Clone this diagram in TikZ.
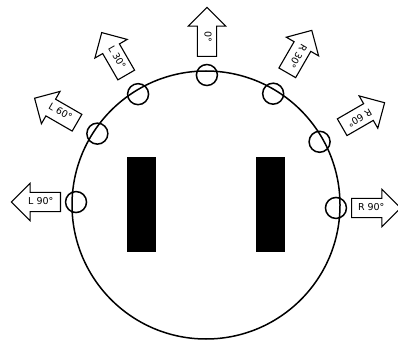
\documentclass[tikz,border=0pt]{standalone}
\usepackage{fontspec}
\newfontfamily\labelfont{DejaVu Sans}
\usetikzlibrary{shapes.arrows}

\begin{document}
\begin{tikzpicture}[
  x=1pt, y=1pt,
  dirarrow/.style={
    single arrow, draw=black, line width=1.1pt,
    single arrow head extend=9pt, single arrow head indent=0pt,
    minimum height=49pt, inner xsep=2.5pt, inner ysep=4.6pt,
    text height=7pt, text depth=2pt,
    font=\labelfont\fontsize{9.5}{10}\selectfont, anchor=tail
  },
  sensor/.style={
    circle, draw=black, line width=1.5pt,
    minimum size=21pt, inner sep=0pt
  }
]
\useasboundingbox (0,0) rectangle (398,340);

% ================= BODY =================
\coordinate (body) at (206,135);
\draw[line width=1.5pt] (body) circle (134pt);

% wheels
\fill (127,88) rectangle (156,183);
\fill (256,88) rectangle (285,183);

% ================= SENSORS =================
\foreach \name/\ang in {
  s0/89.6, sL30/121.5, sL60/146.7, sL90/178.7,
  sR30/58.9, sR60/29.1, sR90/-1.3}
{
  \path (body) ++(\ang:130) node[sensor] (\name) {};
}

% ================= ARROWS =================
\foreach \name/\lab/\x/\y/\rot/\brot in {
  a0/0°/207/283/-90/180,
  aL30/L 30°/126.5/264.5/-60/180,
  aL60/L 60°/77.5/217/-30/180,
  aL90/L 90°/61/138/0/180,
  aR30/R 30°/287/266.7/-120/180,
  aR60/R 60°/341.7/212.5/-150/180,
  aR90/R 90°/351/132/0/0}
{
  \node[dirarrow, rotate=\rot, shape border rotate=\brot] (\name) at (\x,\y) {\lab};
}

\end{tikzpicture}
\end{document}
